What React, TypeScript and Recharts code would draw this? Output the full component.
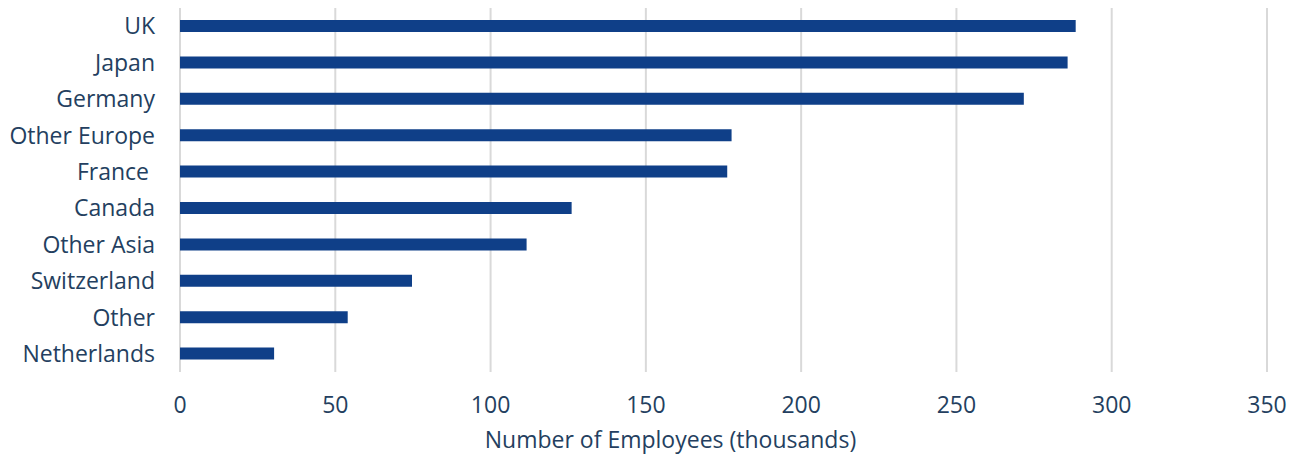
import React from "react";
import { BarChart, Bar, XAxis, YAxis, CartesianGrid } from "recharts";

// regions, top to bottom
const REGIONS = [
  "UK",
  "Japan",
  "Germany",
  "Other Europe",
  "France\u00A0",
  "Canada",
  "Other Asia",
  "Switzerland",
  "Other",
  "Netherlands",
];

// employees in thousands
const EMPLOYEES = [288.4, 285.8, 271.7, 177.6, 176.2, 126.1, 111.6, 74.7, 54.0, 30.3];

const X_TICKS = [0, 50, 100, 150, 200, 250, 300, 350];

const BAR_COLOR = "#0f3f88";
const TEXT_COLOR = "#243f60";
const GRID_COLOR = "#d9d9d9";
const FONT = "'Open Sans', sans-serif";

const data = REGIONS.map((name, i) => ({ name, value: EMPLOYEES[i] }));

export default function App() {
  return (
    <div style={{ position: "fixed", left: 0, top: 0, width: 1290, height: 454, overflow: "hidden", background: "#fff", fontFamily: FONT }}>
      <style>{"html,body{margin:0;overflow:hidden}"}</style>
      <BarChart
        width={1290}
        height={454}
        data={data}
        layout="vertical"
        margin={{ top: 8, right: 23, bottom: 0, left: 0 }}
      >
        <CartesianGrid horizontal={false} stroke={GRID_COLOR} strokeWidth={2} />
        <XAxis
          type="number"
          domain={[0, 350]}
          ticks={X_TICKS}
          axisLine={false}
          tickLine={false}
          tickSize={0}
          tickMargin={25}
          height={82}
          tick={{ fill: TEXT_COLOR, fontSize: 23, fontFamily: FONT }}
          label={{
            value: "Number of Employees (thousands)",
            position: "insideBottom",
            offset: 6,
            dx: -53,
            fill: TEXT_COLOR,
            fontSize: 23,
            fontFamily: FONT,
          }}
        />
        <YAxis
          type="category"
          dataKey="name"
          width={180}
          axisLine={false}
          tickLine={false}
          tickSize={0}
          tickMargin={25}
          interval={0}
          tick={{ fill: TEXT_COLOR, fontSize: 23, fontFamily: FONT }}
        />
        <Bar dataKey="value" fill={BAR_COLOR} barSize={12} isAnimationActive={false} />
      </BarChart>
    </div>
  );
}
